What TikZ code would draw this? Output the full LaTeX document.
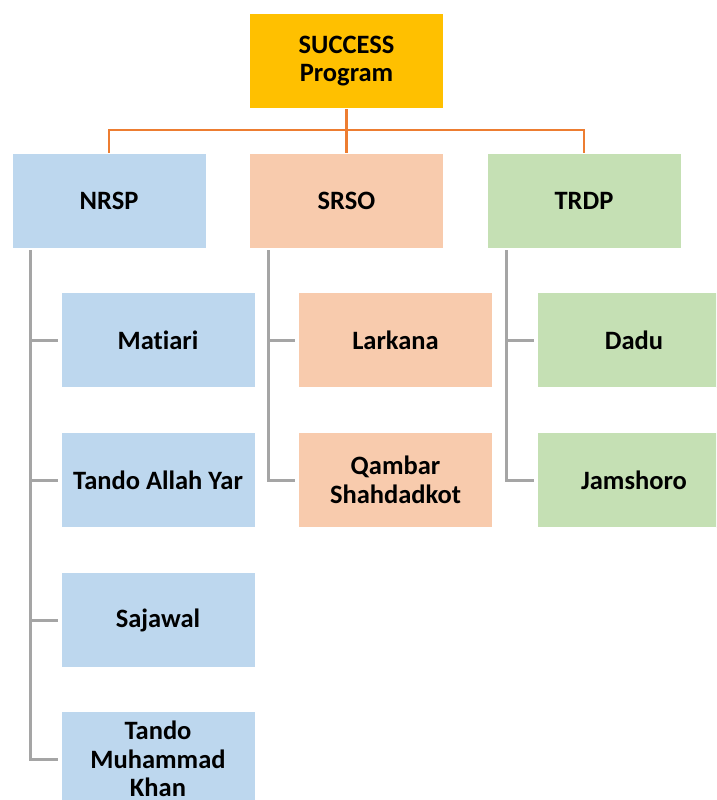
\documentclass[tikz,border=0pt]{standalone}
\usepackage{fontspec}
\setmainfont{Carlito}[Ligatures={NoCommon}]
\definecolor{gold}{HTML}{FFC000}
\definecolor{lblue}{HTML}{BDD7EE}
\definecolor{peach}{HTML}{F8CBAD}
\definecolor{lgreen}{HTML}{C5E0B4}
\definecolor{orangeline}{HTML}{ED7D31}
\definecolor{grayline}{HTML}{A5A5A5}
\begin{document}
\begin{tikzpicture}[x=1pt,y=-1pt,
  box/.style={rectangle,draw=white,line width=1pt,minimum width=194pt,minimum height=95pt,
    inner sep=2pt,align=center,font=\fontsize{26.5}{28.5}\selectfont\bfseries},
  topline/.style={draw=orangeline,line width=2.8pt},
  subline/.style={draw=grayline,line width=3pt}]
\useasboundingbox (0,0) rectangle (716,800);
\begin{scope}
\clip (0,0) rectangle (716,800);
\node[box,fill=gold] (top) at (346.5,61) {SUCCESS\\Program};
\node[box,fill=lblue] (nrsp) at (109,200.5) {NRSP};
\node[box,fill=peach] (srso) at (346.5,200.5) {SRSO};
\node[box,fill=lgreen] (trdp) at (584,200.5) {TRDP};

\node[box,fill=lblue] (n1) at (158,340) {Matiari};
\node[box,fill=lblue] (n2) at (158,480) {Tando Allah Yar};
\node[box,fill=lblue] (n3) at (158,620) {Sajawal};
\node[box,fill=lblue] (n4) at (158,759) {Tando\\Muhammad\\Khan};

\node[box,fill=peach] (s1) at (395.5,340) {Larkana};
\node[box,fill=peach] (s2) at (395.5,480) {Qambar\\Shahdadkot};

\node[box,fill=lgreen] (t1) at (634,340) {Dadu};
\node[box,fill=lgreen] (t2) at (634,480) {Jamshoro};

\coordinate (bus) at (346.5,130);
\draw[topline] (top.south) -- (srso.north);
\draw[topline] (nrsp.north) |- (bus) -| (trdp.north);

\coordinate (nv) at (30,250);
\coordinate (sv) at (268,250);
\coordinate (tv) at (506,250);
\draw[subline] (nv) |- ([xshift=-3pt]n4.west);
\foreach \c in {n1,n2,n3} \draw[subline] (nv|-\c.west) -- ([xshift=-3pt]\c.west);
\draw[subline] (sv) |- ([xshift=-3pt]s2.west);
\draw[subline] (sv|-s1.west) -- ([xshift=-3pt]s1.west);
\draw[subline] (tv) |- ([xshift=-3pt]t2.west);
\draw[subline] (tv|-t1.west) -- ([xshift=-3pt]t1.west);
\end{scope}
\end{tikzpicture}
\end{document}
